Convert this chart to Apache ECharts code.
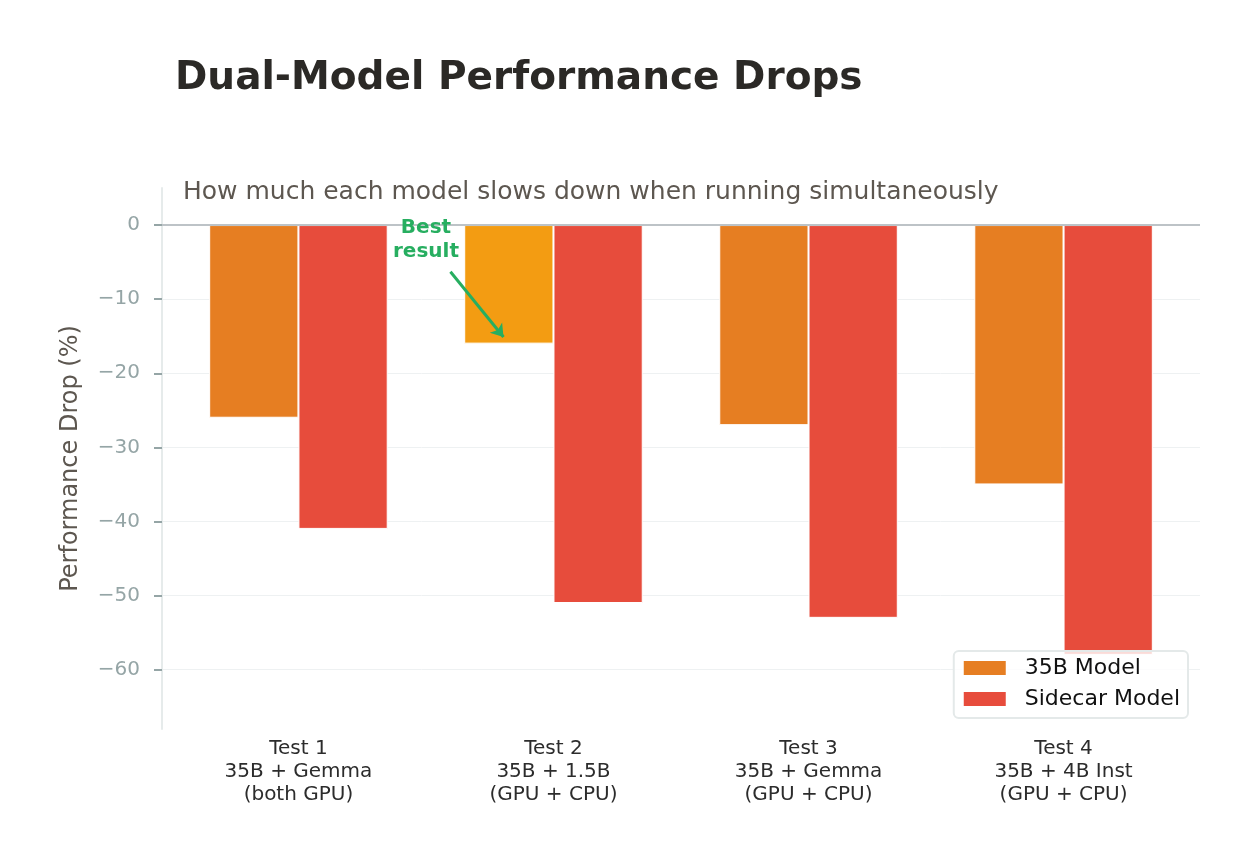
<!DOCTYPE html>
<html>
<head>
<meta charset="utf-8">
<script src="https://cdn.jsdelivr.net/npm/echarts@6/dist/echarts.min.js"></script>
<style>
  html, body { margin: 0; padding: 0; background: #fff; }
  #chart { width: 1260px; height: 866px; }
</style>
</head>
<body>
<div id="chart"></div>
<script>
// data
const categories = [
  'Test 1\n35B + Gemma\n(both GPU)',
  'Test 2\n35B + 1.5B\n(GPU + CPU)',
  'Test 3\n35B + Gemma\n(GPU + CPU)',
  'Test 4\n35B + 4B Inst\n(GPU + CPU)'
]
const mainDrop = [-26, -16, -27, -35]
const sidecarDrop = [-41, -51, -53, -58]
const bestIndex = 1
const yTicks = [-60, -50, -40, -30, -20, -10, 0]
const yRange = [-68, 5]
const xRange = [-0.535, 3.535]
// annotation in data units (x = category index)
const noteText = [0.5, -2]
const noteArrow = [[0.596, -6.3], [0.804, -15.1]]

const colors = { main: '#e67e22', best: '#f39c12', sidecar: '#e74c3c', note: '#27ae60' }
const font = 'DejaVu Sans, Verdana, sans-serif'

// plot area (matches the reference axes box)
const plot = { left: 162, right: 60, top: 188, bottom: 137 }
const unit = (1260 - plot.left - plot.right) / (xRange[1] - xRange[0])
const barGrid = {
  left: plot.left + (-0.5 - xRange[0]) * unit,
  right: plot.right + (xRange[1] - 3.5) * unit,
  top: plot.top,
  bottom: plot.bottom
}

const minus = v => String(v).replace('-', '\u2212')

const chart = echarts.init(document.getElementById('chart'))

chart.setOption({
  backgroundColor: '#fff',
  animation: false,
  textStyle: { fontFamily: font },
  title: [
    {
      text: 'Dual-Model Performance Drops',
      left: 175, top: 59, padding: 0,
      textStyle: { fontSize: 39, fontWeight: 'bold', color: '#2b2926', fontFamily: font }
    },
    {
      text: 'How much each model slows down when running simultaneously',
      left: 183, top: 180, padding: 0,
      textStyle: { fontSize: 25, fontWeight: 'normal', color: '#5d5750', fontFamily: font }
    }
  ],
  legend: {
    orient: 'vertical',
    right: 72, bottom: 148,
    itemWidth: 44, itemHeight: 16, itemGap: 9,
    icon: 'rect',
    padding: [6, 8, 8, 8],
    backgroundColor: 'rgba(255,255,255,0.8)',
    borderColor: '#e4e9e9', borderWidth: 2, borderRadius: 5,
    textStyle: { fontSize: 22, color: '#111', padding: [0, 0, 0, 13] },
    data: ['35B Model', 'Sidecar Model']
  },
  grid: [
    Object.assign({ containLabel: false }, plot),
    Object.assign({ containLabel: false }, barGrid)
  ],
  xAxis: [
    { type: 'value', gridIndex: 0, min: xRange[0], max: xRange[1], show: false },
    {
      type: 'category', gridIndex: 1, data: categories,
      axisLine: { show: false }, axisTick: { show: false }, splitLine: { show: false },
      axisLabel: { fontSize: 20, lineHeight: 23, color: '#2c2c2c', margin: 8 }
    }
  ],
  yAxis: [
    {
      type: 'value', gridIndex: 0, min: yRange[0], max: yRange[1],
      name: 'Performance Drop (%)', nameLocation: 'middle', nameGap: 79,
      nameTextStyle: { fontSize: 24, color: '#5d5750' },
      axisLine: { show: true, onZero: false, lineStyle: { color: '#e6ebeb', width: 2 } },
      axisTick: { show: true, length: 8, customValues: yTicks, lineStyle: { color: '#95a5a6', width: 2 } },
      axisLabel: {
        customValues: yTicks, fontSize: 20, color: '#95a5a6', margin: 22,
        padding: [4, 0, 0, 0], formatter: minus
      },
      splitLine: { show: true, lineStyle: { color: '#eef1f2', width: 1 } }
    },
    { type: 'value', gridIndex: 1, min: yRange[0], max: yRange[1], show: false }
  ],
  series: [
    {
      name: '35B Model', type: 'bar', xAxisIndex: 1, yAxisIndex: 1,
      barWidth: '35%', barGap: '0%',
      itemStyle: { color: colors.main, borderColor: '#fff', borderWidth: 1 },
      data: mainDrop.map((v, i) => i === bestIndex ? { value: v, itemStyle: { color: colors.best } } : v),
      z: 2
    },
    {
      name: 'Sidecar Model', type: 'bar', xAxisIndex: 1, yAxisIndex: 1,
      barWidth: '35%', barGap: '0%',
      itemStyle: { color: colors.sidecar, borderColor: '#fff', borderWidth: 1 },
      data: sidecarDrop,
      z: 2
    },
    {
      type: 'scatter', xAxisIndex: 0, yAxisIndex: 0,
      symbolSize: 0, silent: true,
      itemStyle: { opacity: 1 },
      data: [noteText],
      label: {
        show: true, position: 'inside', formatter: 'Best\nresult',
        fontSize: 20, lineHeight: 24, fontWeight: 'bold', color: colors.note,
        textBorderWidth: 0, opacity: 1
      },
      markLine: {
        silent: true, symbol: 'none',
        label: { show: false },
        lineStyle: { color: '#bdc3c7', width: 2, type: 'solid' },
        data: [{ yAxis: 0 }]
      },
      z: 5
    },
    {
      type: 'lines', coordinateSystem: 'cartesian2d', xAxisIndex: 0, yAxisIndex: 0,
      silent: true,
      symbol: ['none', 'arrow'], symbolSize: 12,
      lineStyle: { color: colors.note, width: 3, opacity: 1 },
      data: [{ coords: noteArrow }],
      z: 5
    }
  ]
})

window.addEventListener('resize', () => chart.resize())
</script>
</body>
</html>
